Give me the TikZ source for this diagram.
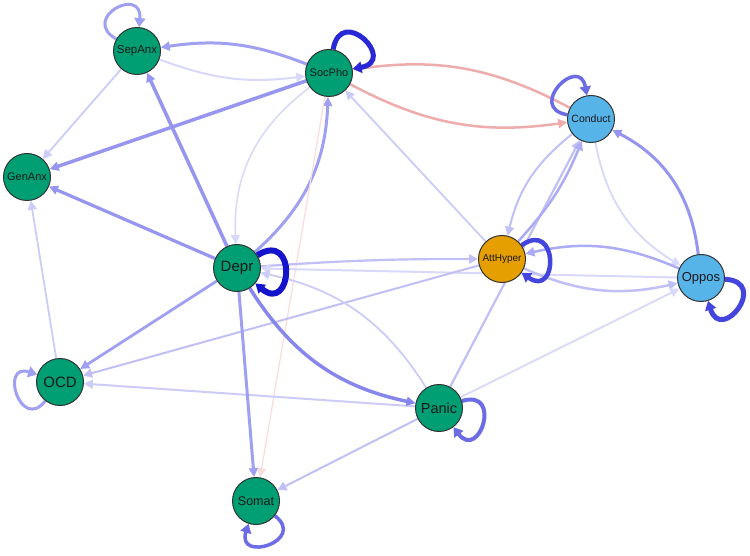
\documentclass[tikz,border=0pt]{standalone}
\usepackage{fontspec}
\setmainfont{Liberation Sans}
\usetikzlibrary{arrows.meta}
\pgfdeclarelayer{bg}
\pgfdeclarelayer{edges}
\pgfsetlayers{bg,edges,main}
\definecolor{grn}{HTML}{009E73}
\definecolor{org}{HTML}{E69F00}
\definecolor{sky}{HTML}{56B4E9}
\definecolor{bA}{HTML}{D8D8FA}
\definecolor{bB}{HTML}{CCCCF8}
\definecolor{bC}{HTML}{C0C0F6}
\definecolor{bD}{HTML}{ACACF4}
\definecolor{bE}{HTML}{A0A0F2}
\definecolor{bF}{HTML}{9696F0}
\definecolor{bG}{HTML}{8686EC}
\definecolor{lB}{HTML}{6C6CE6}
\definecolor{lC}{HTML}{4444DE}
\definecolor{lD}{HTML}{2828D6}
\definecolor{lE}{HTML}{1414CC}
\definecolor{rA}{HTML}{EEACAC}
\definecolor{rB}{HTML}{FADCDC}
\tikzset{
  nd/.style={circle, draw=black!80, line width=1pt, minimum size=47pt, inner sep=0pt, text=black!90},
  e/.style={-{Triangle[length=9pt,width=9pt]}},
  lp/.style={-{Triangle[length=9pt,width=11pt]}, looseness=1},
}
\begin{document}
\begin{tikzpicture}[x=1pt,y=1pt]
\begin{pgfonlayer}{bg}
\fill[white] (0,0) rectangle (750,-556);
\end{pgfonlayer}
\useasboundingbox (0,0) rectangle (750,-556);
% nodes
\node[nd, fill=grn, font=\fontsize{11.5}{13}\selectfont] (SepAnx) at (137,-51) {SepAnx};
\node[nd, fill=grn, font=\fontsize{11}{13}\selectfont] (SocPho) at (329,-73) {SocPho};
\node[nd, fill=sky, font=\fontsize{10.5}{12}\selectfont] (Conduct) at (591,-119) {Conduct};
\node[nd, fill=grn, font=\fontsize{11}{13}\selectfont] (GenAnx) at (27,-177) {GenAnx};
\node[nd, fill=grn, font=\fontsize{15}{17}\selectfont] (Depr) at (237,-268) {Depr};
\node[nd, fill=org, font=\fontsize{10}{12}\selectfont] (AttHyper) at (502,-259) {AttHyper};
\node[nd, fill=sky, font=\fontsize{13}{15}\selectfont] (Oppos) at (701,-278) {Oppos};
\node[nd, fill=grn, font=\fontsize{15}{17}\selectfont] (OCD) at (60,-382) {OCD};
\node[nd, fill=grn, font=\fontsize{14.5}{16}\selectfont] (Panic) at (439,-408) {Panic};
\node[nd, fill=grn, font=\fontsize{12.5}{14}\selectfont] (Somat) at (256,-501) {Somat};
\begin{pgfonlayer}{edges}
% edges
\draw[e, draw=bE, line width=3pt] (SocPho) to[bend right=15] (SepAnx);
\draw[e, draw=bA, line width=2pt] (SepAnx) to[bend right=14] (SocPho);
\draw[e, draw=bB, line width=1.8pt] (SepAnx) -- (GenAnx);
\draw[e, draw=bF, line width=3.5pt] (SocPho) -- (GenAnx);
\draw[e, draw=bF, line width=3.5pt] (Depr) -- (SepAnx);
\draw[e, draw=bF, line width=3.2pt] (Depr) -- (GenAnx);
\draw[e, draw=rA, line width=2.5pt] (Conduct) to[bend right=18] (SocPho);
\draw[e, draw=rA, line width=2.5pt] (SocPho) to[bend right=18] (Conduct);
\draw[e, draw=bA, line width=1.5pt] (SocPho) to[bend right=28] (Depr);
\draw[e, draw=bE, line width=3pt] (Depr) to[bend right=23] (SocPho);
\draw[e, draw=rB, line width=1.2pt] (SocPho) -- (Somat);
\draw[e, draw=bB, line width=1.8pt] (AttHyper) -- (SocPho);
\draw[e, draw=bC, line width=2.2pt] (Depr) to[bend left=2] (AttHyper);
\draw[e, draw=bA, line width=2pt] (Oppos) -- (Depr);
\draw[e, draw=bC, line width=2pt] (AttHyper) -- (OCD);
\draw[e, draw=bB, line width=2pt] (Panic) -- (OCD);
\draw[e, draw=bE, line width=2.8pt] (Depr) -- (OCD);
\draw[e, draw=bB, line width=1.8pt] (OCD) -- (GenAnx);
\draw[e, draw=bE, line width=3pt] (Depr) -- (Somat);
\draw[e, draw=bG, line width=3.5pt] (Depr) to[bend right=23] (Panic);
\draw[e, draw=bB, line width=1.8pt] (Panic) to[bend right=23] (Depr);
\draw[e, draw=bC, line width=2.2pt] (Panic) -- (Conduct);
\draw[e, draw=bD, line width=2.5pt] (AttHyper) to[bend right=10] (Conduct);
\draw[e, draw=bC, line width=2pt] (Conduct) to[bend right=19] (AttHyper);
\draw[e, draw=bA, line width=1.8pt] (Conduct) to[bend right=24] (Oppos);
\draw[e, draw=bF, line width=3pt] (Oppos) to[bend right=28] (Conduct);
\draw[e, draw=bD, line width=2.5pt] (Oppos) to[bend right=18] (AttHyper);
\draw[e, draw=bC, line width=2.5pt] (AttHyper) to[bend right=18] (Oppos);
\draw[e, draw=bA, line width=1.8pt] (Panic) -- (Oppos);
\draw[e, draw=bC, line width=2pt] (Panic) -- (Somat);
% self loops
\draw[lp, draw=bE, line width=3pt] (SepAnx) to[out=150,in=85,min distance=42pt] (SepAnx);
\draw[lp, draw=lD, line width=5pt] (SocPho) to[out=80,in=10,min distance=46pt] (SocPho);
\draw[lp, draw=lB, line width=3.5pt] (Conduct) to[out=170,in=100,min distance=42pt] (Conduct);
\draw[lp, draw=lE, line width=6pt] (Depr) to[out=32,in=-40,min distance=48pt] (Depr);
\draw[lp, draw=lC, line width=4.5pt] (AttHyper) to[out=35,in=-35,min distance=45pt] (AttHyper);
\draw[lp, draw=lC, line width=5pt] (Oppos) to[out=-3,in=-73,min distance=45pt] (Oppos);
\draw[lp, draw=bE, line width=3pt] (OCD) to[out=232,in=162,min distance=40pt] (OCD);
\draw[lp, draw=lB, line width=4pt] (Panic) to[out=17,in=-53,min distance=43pt] (Panic);
\draw[lp, draw=lB, line width=3.5pt] (Somat) to[out=-38,in=-108,min distance=41pt] (Somat);
\end{pgfonlayer}
\end{tikzpicture}
\end{document}
